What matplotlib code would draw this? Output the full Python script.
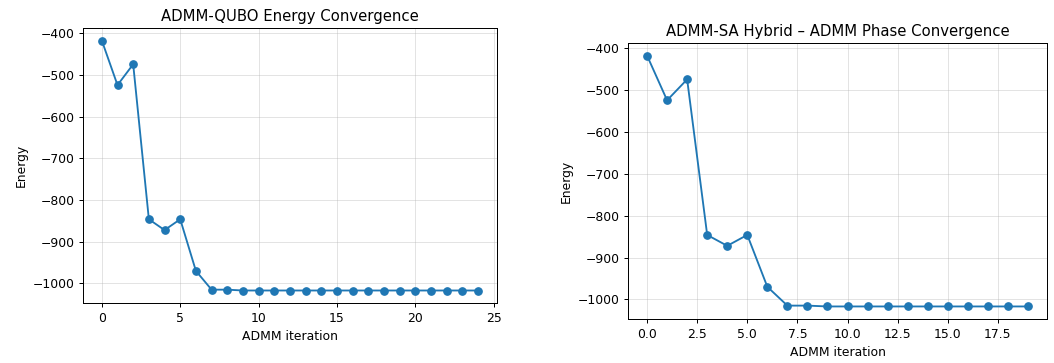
import matplotlib
matplotlib.use("Agg")
import matplotlib.pyplot as plt

# Data
qubo_iters = list(range(25))
qubo_energy = [-417, -524, -474, -846, -872, -846, -970, -1015, -1015,
               -1017, -1017, -1017, -1017, -1017, -1017, -1017, -1017,
               -1017, -1017, -1017, -1017, -1017, -1017, -1017, -1017]

hybrid_iters = list(range(20))
hybrid_energy = [-417, -524, -474, -846, -872, -846, -970, -1015, -1015,
                 -1017, -1017, -1017, -1017, -1017, -1017, -1017, -1017,
                 -1017, -1017, -1017]

W, H = 1054, 363
DPI = 89
fig = plt.figure(figsize=(W / DPI, H / DPI), dpi=DPI)

ax1 = fig.add_axes([83 / W, (H - 303) / H, 414 / W, 275 / H])
ax1.plot(qubo_iters, qubo_energy, marker='o', color='#1f77b4')
ax1.set_title("ADMM-QUBO Energy Convergence")
ax1.set_xlabel("ADMM iteration")
ax1.set_ylabel("Energy")
ax1.grid(True, alpha=0.35)

ax2 = fig.add_axes([628 / W, (H - 319) / H, 419 / W, 276 / H])
ax2.plot(hybrid_iters, hybrid_energy, marker='o', color='#1f77b4')
ax2.set_title("ADMM-SA Hybrid \u2013 ADMM Phase Convergence")
ax2.set_xlabel("ADMM iteration")
ax2.set_ylabel("Energy")
ax2.grid(True, alpha=0.35)

fig.savefig("out.png", dpi=DPI)
